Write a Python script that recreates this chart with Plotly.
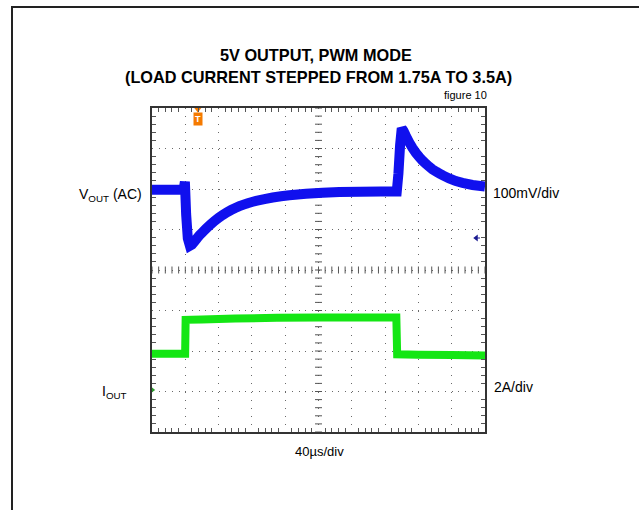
import plotly.graph_objects as go

# ---------------- data ----------------
# time in microseconds (40 us/div, 10 div)
vout_t = [0, 20, 38, 39.5, 41, 43, 45.5, 48, 51, 54, 57, 61, 65, 70, 75, 80, 85, 90, 95, 100,
          105, 110, 115, 120, 125, 135, 145, 155, 165, 175, 185, 205, 225, 250, 275, 294,
          296, 298, 300, 302, 305, 309, 313, 317, 321, 325, 329, 333, 337, 342, 346, 350,
          357, 365, 373, 385, 400]
# VOUT AC deviation in mV (100 mV/div)
vout_mv = [0, 0, 0, 20, -60, -120, -138, -135, -128, -120, -112.5, -104, -96, -86, -77, -69,
           -62, -55.5, -50, -45, -40.5, -36.5, -33, -30, -27.5, -23, -19, -16, -13.5, -11.5,
           -10, -7.5, -5.5, -4.5, -4, -4, 40, 110, 152, 146, 133, 117, 103, 91, 81, 72, 64,
           57, 50.5, 44, 39.5, 35, 28, 21.5, 17, 12, 8]

iout_t = [0, 39.8, 40.4, 60, 100, 150, 200, 250, 293.5, 294.5, 320, 360, 400]
# IOUT in A (2 A/div)
iout_a = [1.78, 1.78, 3.46, 3.48, 3.52, 3.56, 3.57, 3.58, 3.57, 1.76, 1.74, 1.72, 1.70]

VOUT_OFFSET_DIV = 5.98   # screen position (div) of the VOUT AC zero
IOUT_OFFSET_DIV = 1.04   # screen position (div) of IOUT zero (ground marker)
MV_PER_DIV = 100.0
A_PER_DIV = 2.0

vout_div = [VOUT_OFFSET_DIV + v / MV_PER_DIV for v in vout_mv]
iout_div = [IOUT_OFFSET_DIV + a / A_PER_DIV for a in iout_a]

# ---------------- layout geometry ----------------
W, H = 639, 510
ML, MR, MT, MB = 152, 154, 108, 78
PW, PH = W - ML - MR, H - MT - MB


def px_x(px):
    return (px - ML) / PW


def px_y(py):
    return (H - MB - py) / PH


BLUE = "#1010ee"
GREEN = "#14e614"
ORANGE = "#f57a00"
TICK = "#555555"

fig = go.Figure()

# centre cross tick marks
fig.add_trace(go.Scatter(
    x=[200] * 41, y=[0.2 * k for k in range(41)], mode="markers",
    marker=dict(symbol="line-ew", size=5, line=dict(width=1, color=TICK)),
    hoverinfo="skip", showlegend=False))
fig.add_trace(go.Scatter(
    x=[8 * k for k in range(51)], y=[4] * 51, mode="markers",
    marker=dict(symbol="line-ns", size=5, line=dict(width=1, color=TICK)),
    hoverinfo="skip", showlegend=False))

# main traces
fig.add_trace(go.Scatter(x=vout_t, y=vout_div, mode="lines", name="VOUT",
                         line=dict(color=BLUE, width=10, simplify=False), showlegend=False))
fig.add_trace(go.Scatter(x=iout_t, y=iout_div, mode="lines", name="IOUT",
                         line=dict(color=GREEN, width=8, simplify=False), showlegend=False))

# scope markers
fig.add_trace(go.Scatter(x=[55], y=[7.96], mode="markers", cliponaxis=False,
                         marker=dict(symbol="triangle-down", size=6, color=ORANGE),
                         hoverinfo="skip", showlegend=False))
fig.add_trace(go.Scatter(x=[137.5], y=[8.04], mode="markers", cliponaxis=False,
                         marker=dict(symbol="square", size=4, color=ORANGE),
                         hoverinfo="skip", showlegend=False))
fig.add_trace(go.Scatter(x=[389, 394], y=[4.79, 4.79], mode="lines",
                         line=dict(color="#1a1a90", width=1),
                         hoverinfo="skip", showlegend=False))
fig.add_trace(go.Scatter(x=[389.5], y=[4.79], mode="markers",
                         marker=dict(symbol="triangle-left", size=6, color="#1a1a90"),
                         hoverinfo="skip", showlegend=False))
fig.add_trace(go.Scatter(x=[0.8], y=[IOUT_OFFSET_DIV], mode="markers", cliponaxis=False,
                         marker=dict(symbol="triangle-right", size=5, color="#2a9a2a"),
                         hoverinfo="skip", showlegend=False))

axis_common = dict(showticklabels=False, ticks="", zeroline=False,
                   showline=True, linecolor="#333333", linewidth=2, mirror="ticks",
                   gridcolor="#6a6a6a", gridwidth=1, fixedrange=True)

fig.update_xaxes(range=[0, 400], dtick=40, tick0=0, griddash="1px,7.1px",
                 minor=dict(dtick=8, ticks="inside", ticklen=4, tickcolor=TICK, showgrid=False),
                 **axis_common)
fig.update_yaxes(range=[0, 8], dtick=1, tick0=0, griddash="1px,5.66px",
                 minor=dict(dtick=0.2, ticks="inside", ticklen=4, tickcolor=TICK, showgrid=False),
                 **axis_common)

SANS = "Liberation Sans, Arial, sans-serif"

annots = [
    dict(text="<b>5V OUTPUT, PWM MODE</b>", x=px_x(316), y=px_y(55), xanchor="center",
         font=dict(family=SANS, size=16.3, color="black")),
    dict(text="<b>(LOAD CURRENT STEPPED FROM 1.75A TO 3.5A)</b>", x=px_x(318), y=px_y(77),
         xanchor="center", font=dict(family=SANS, size=16.3, color="black")),
    dict(text="figure 10", x=px_x(489), y=px_y(95), xanchor="right",
         font=dict(family=SANS, size=11, color="black")),
    dict(text="V<sub>OUT</sub> (AC)", x=px_x(144), y=px_y(195), xanchor="right",
         font=dict(family=SANS, size=14, color="black")),
    dict(text="I<sub>OUT</sub>", x=px_x(100), y=px_y(392), xanchor="left",
         font=dict(family=SANS, size=14, color="black")),
    dict(text="100mV/div", x=px_x(491), y=px_y(193), xanchor="left",
         font=dict(family=SANS, size=14, color="black")),
    dict(text="2A/div", x=px_x(492), y=px_y(387), xanchor="left",
         font=dict(family=SANS, size=14, color="black")),
    dict(text="40µs/div", x=px_x(319), y=px_y(451), xanchor="center",
         font=dict(family=SANS, size=13, color="black")),
    dict(text="<b>T</b>", x=55, y=7.72, xref="x", yref="y", xanchor="center",
         font=dict(family=SANS, size=9, color="white"), bgcolor=ORANGE, borderpad=1),
]
for a in annots:
    a.setdefault("xref", "paper")
    a.setdefault("yref", "paper")
    a.setdefault("yanchor", "middle")
    a["showarrow"] = False

shapes = [
    dict(type="line", xref="paper", yref="paper", x0=px_x(12), x1=px_x(12),
         y0=px_y(7), y1=px_y(512), line=dict(color="#222222", width=2)),
    dict(type="line", xref="paper", yref="paper", x0=px_x(11), x1=px_x(641),
         y0=px_y(7), y1=px_y(7), line=dict(color="#222222", width=2)),
]

fig.update_layout(width=W, height=H, margin=dict(l=ML, r=MR, t=MT, b=MB),
                  paper_bgcolor="white", plot_bgcolor="white",
                  annotations=annots, shapes=shapes, showlegend=False)

fig.write_html("out.html", config={"displayModeBar": False},
               post_script="document.body.style.margin='0';document.body.style.overflow='hidden';")
